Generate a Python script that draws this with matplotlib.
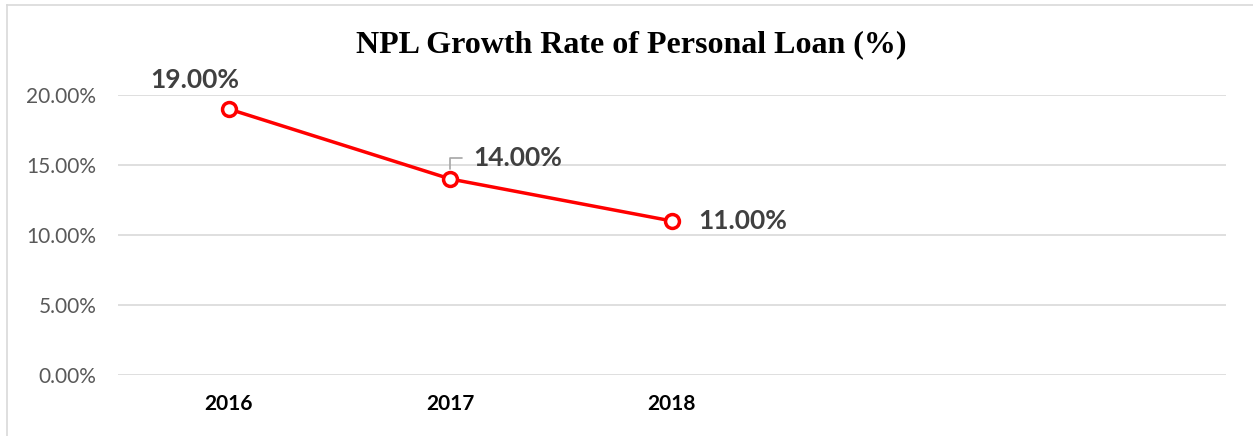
import matplotlib
matplotlib.use("Agg")
import matplotlib.pyplot as plt
from matplotlib.lines import Line2D
from matplotlib.ticker import PercentFormatter

# data
years = ["2016", "2017", "2018", "", ""]
npl_rate = [19.0, 14.0, 11.0]
y_ticks = [0, 5, 10, 15, 20]

W, H = 1253, 436
fig = plt.figure(figsize=(W / 100, H / 100), dpi=100)
ax = fig.add_axes([118 / W, 61 / H, (1226 - 118) / W, (375 - 95) / H])

x = list(range(len(npl_rate)))
ax.plot(x, npl_rate, color="#ff0000", lw=2.5, marker="o", ms=10,
        mfc="white", mec="#ff0000", mew=2.5, zorder=3, clip_on=False)

ax.set_xlim(-0.5, len(years) - 0.5)
ax.set_ylim(0, 20)
ax.set_yticks(y_ticks)
ax.yaxis.set_major_formatter(PercentFormatter(decimals=2))
ax.set_xticks(range(len(years)))
ax.set_xticklabels(years)

ax.grid(axis="y", color="#d9d9d9", lw=1.2)
ax.set_axisbelow(True)
for s in ax.spines.values():
    s.set_visible(False)
ax.tick_params(length=0)
ax.tick_params(axis="y", pad=15.5, labelsize=15, labelcolor="#595959")
ax.tick_params(axis="x", pad=14, labelsize=15, labelcolor="black")
for lab in ax.get_yticklabels():
    lab.set_fontfamily("Lato")
for lab in ax.get_xticklabels():
    lab.set_fontfamily("Lato")
    lab.set_fontweight("bold")

# data labels (offsets in pixels)
lbl = dict(fontsize=19, fontweight="bold", color="#404040", family="Lato",
           textcoords="offset pixels")
ax.annotate(f"{npl_rate[0]:.2f}%", (x[0], npl_rate[0]), xytext=(-34, 29),
            ha="center", va="center", **lbl)
ax.annotate(f"{npl_rate[1]:.2f}%", (x[1], npl_rate[1]), xytext=(23, 21),
            ha="left", va="center",
            arrowprops=dict(arrowstyle="-", color="#a6a6a6", lw=1.2,
                            connectionstyle="angle,angleA=0,angleB=90,rad=0",
                            shrinkA=6, shrinkB=7),
            **lbl)
ax.annotate(f"{npl_rate[2]:.2f}%", (x[2], npl_rate[2]), xytext=(26, 0),
            ha="left", va="center", **lbl)

fig.text(0.504, 1 - 45 / H, "NPL Growth Rate of Personal Loan (%)",
         ha="center", va="center", fontsize=23, fontweight="bold",
         family="Liberation Serif", color="black")

# chart frame (left and top edges)
fig.add_artist(Line2D([7 / W, 7 / W], [0, 1 - 5 / H], color="#d9d9d9", lw=1.2,
                      transform=fig.transFigure))
fig.add_artist(Line2D([7 / W, 1], [1 - 5 / H, 1 - 5 / H], color="#d9d9d9", lw=1.2,
                      transform=fig.transFigure))

fig.savefig("out.png", dpi=100, facecolor="white")
